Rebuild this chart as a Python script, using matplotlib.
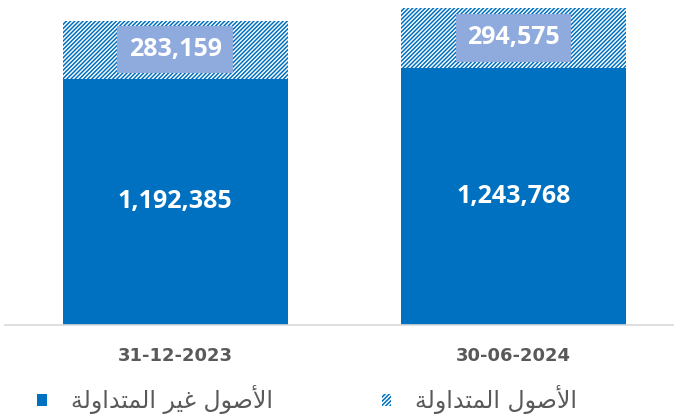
import matplotlib
matplotlib.use("Agg")
import matplotlib.pyplot as plt
from matplotlib.patches import Patch

# data
dates = ['31-12-2023', '30-06-2024']
non_current = [1192385, 1243768]
current = [283159, 294575]
lbl_non_current = 'الأصول غير المتداولة'
lbl_current = 'الأصول المتداولة'

blue = '#0070C0'
box_blue = '#8FAADC'
grey = '#595959'

# matplotlib has no arabic shaping -> use presentation forms (isolated, final, initial, medial)
forms = {
    'ا': ('\uFE8D', '\uFE8E', None, None),
    'أ': ('\uFE83', '\uFE84', None, None),
    'ل': ('\uFEDD', '\uFEDE', '\uFEDF', '\uFEE0'),
    'ص': ('\uFEB9', '\uFEBA', '\uFEBB', '\uFEBC'),
    'و': ('\uFEED', '\uFEEE', None, None),
    'غ': ('\uFECD', '\uFECE', '\uFECF', '\uFED0'),
    'ي': ('\uFEF1', '\uFEF2', '\uFEF3', '\uFEF4'),
    'ر': ('\uFEAD', '\uFEAE', None, None),
    'م': ('\uFEE1', '\uFEE2', '\uFEE3', '\uFEE4'),
    'ت': ('\uFE95', '\uFE96', '\uFE97', '\uFE98'),
    'د': ('\uFEA9', '\uFEAA', None, None),
    'ة': ('\uFE93', '\uFE94', None, None),
}
lam_alef = {'ا': ('\uFEFB', '\uFEFC'), 'أ': ('\uFEF7', '\uFEF8')}


def joins_left(c):
    return c in forms and forms[c][2] is not None


def shape(txt):
    out = []
    i = 0
    while i < len(txt):
        c = txt[i]
        if c not in forms:
            out.append(c)
            i += 1
            continue
        prev = txt[i - 1] if i > 0 else ' '
        from_prev = joins_left(prev)
        if c == 'ل' and i + 1 < len(txt) and txt[i + 1] in lam_alef:
            out.append(lam_alef[txt[i + 1]][1 if from_prev else 0])
            i += 2
            continue
        nxt = txt[i + 1] if i + 1 < len(txt) else ' '
        to_next = joins_left(c) and nxt in forms
        iso, fin, ini, med = forms[c]
        if from_prev and to_next:
            out.append(med)
        elif from_prev:
            out.append(fin)
        elif to_next:
            out.append(ini)
        else:
            out.append(iso)
        i += 1
    return ''.join(out)[::-1]


plt.rcParams['hatch.linewidth'] = 1.1

fig = plt.figure(figsize=(6.74, 4.18), dpi=100)
ax = fig.add_axes([0.007, 0.2225, 0.993, 0.7775])

x = range(len(dates))
b1 = ax.bar(x, non_current, width=0.666, color=blue, linewidth=0)
b2 = ax.bar(x, current, width=0.666, bottom=non_current, facecolor='white',
            edgecolor=blue, hatch='////////', linewidth=0)

for i in x:
    ax.text(i, non_current[i] / 2, f'{non_current[i]:,}', ha='center', va='center',
            color='white', fontsize=18, fontweight='bold', family='Open Sans')
    ax.text(i, non_current[i] + current[i] / 2, f'{current[i]:,}', ha='center', va='center',
            color='white', fontsize=18, fontweight='bold', family='Open Sans',
            bbox=dict(boxstyle='square,pad=0.45', fc=box_blue, ec='none'))

ax.set_xlim(-0.504, 1.475)
ax.set_ylim(0, 1575000)
ax.set_xticks(list(x))
ax.set_xticklabels(dates, fontsize=13, fontweight='bold', color=grey, family='DejaVu Sans')
ax.tick_params(axis='x', length=0, pad=16)
ax.set_yticks([])
for s in ['top', 'left', 'right']:
    ax.spines[s].set_visible(False)
ax.spines['bottom'].set_color('#D9D9D9')
ax.spines['bottom'].set_linewidth(1.2)

handles = [Patch(facecolor=blue, linewidth=0),
           Patch(facecolor='white', edgecolor=blue, hatch='////////', linewidth=0)]
fig.legend(handles, [shape(lbl_non_current), shape(lbl_current)], ncol=2,
           loc='lower left', bbox_to_anchor=(0.024, -0.042), frameon=False,
           prop={'family': 'DejaVu Sans', 'size': 17}, labelcolor=grey,
           handlelength=0.42, handleheight=0.42, handletextpad=1.0, columnspacing=4.6)

fig.savefig('out.png', dpi=100)
